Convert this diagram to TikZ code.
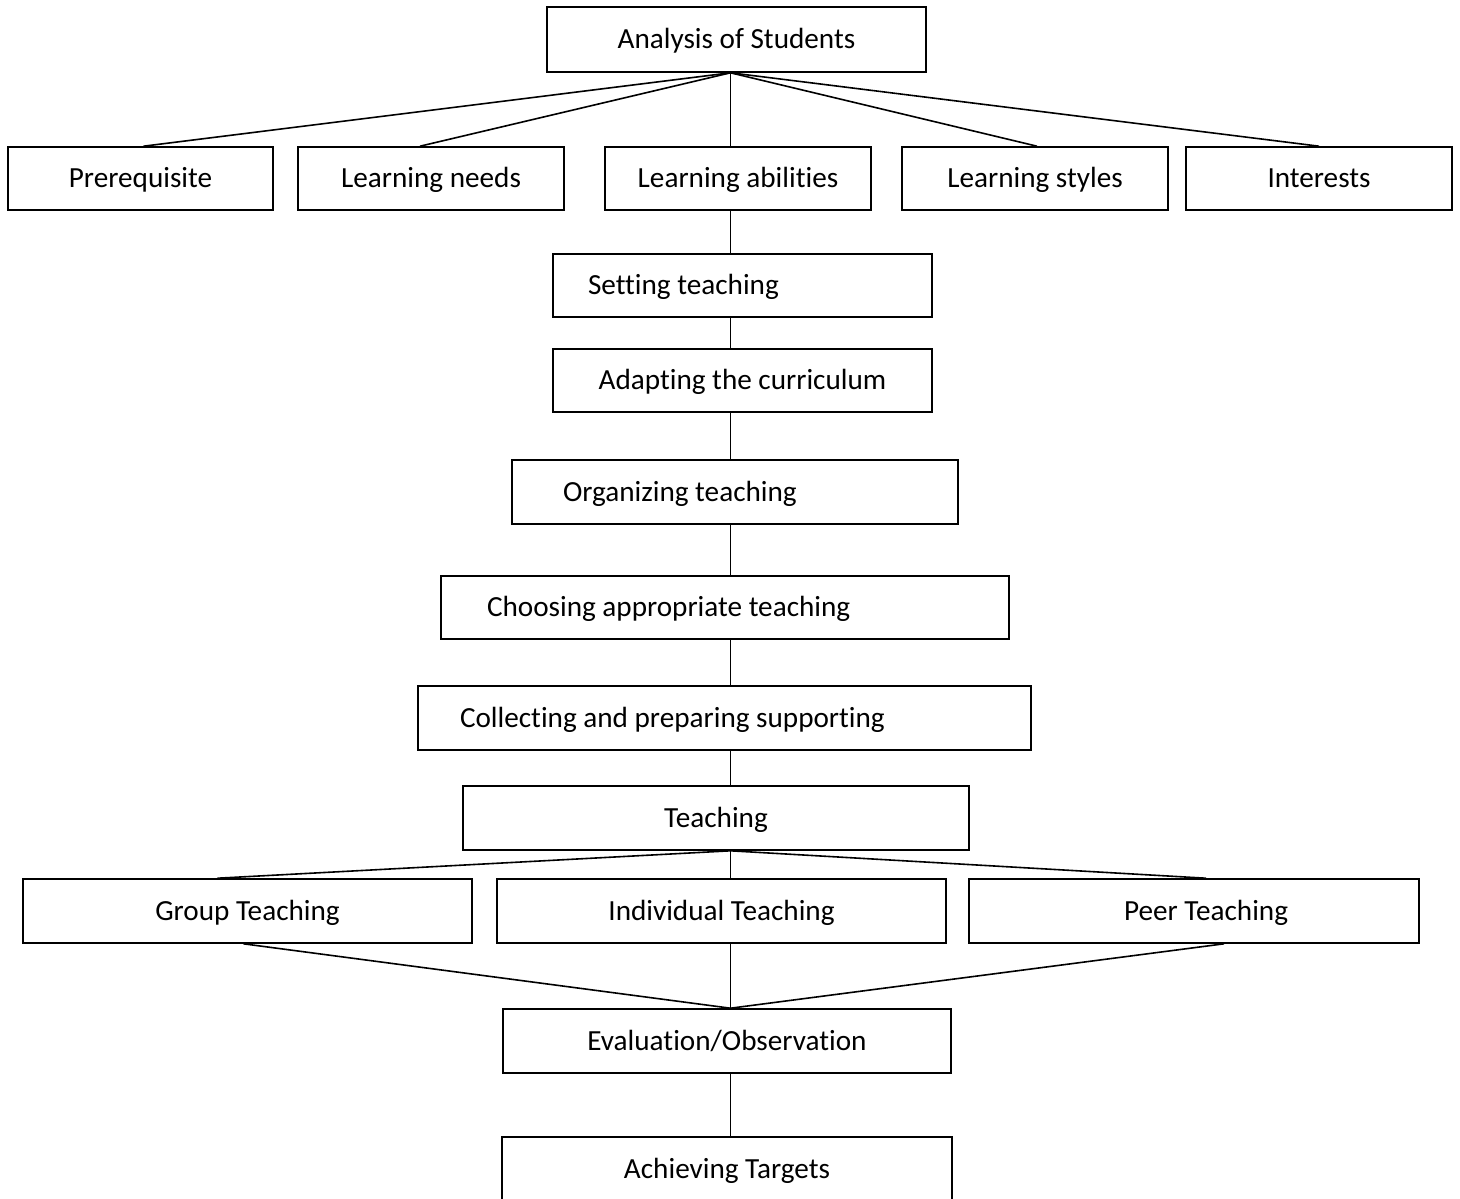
\documentclass[tikz,border=0pt]{standalone}
\usepackage{fontspec}
\setmainfont{Carlito}[Ligatures=NoCommon]
\begin{document}
\begin{tikzpicture}[
      x=0.5pt, y=-0.5pt,
      box/.style={draw, rectangle, inner sep=0pt, minimum height=31.5pt, line width=0.8pt},
      txt/.style={anchor=west, inner sep=0pt},
      every node/.style={font=\fontsize{14.6}{17}\selectfont, text height=11pt, text depth=2pt},
      line width=0.8pt
  ]
  \useasboundingbox (0,0) rectangle (1460,1198);

  % Top row
  \node[box, minimum width=189.5pt, minimum height=32.5pt] (analysis) at (736.5,39.5) {Analysis of Students};
  \node[box, minimum width=132.5pt] (prereq) at (140.5,178.5) {Prerequisite};
  \node[box, minimum width=133pt] (needs) at (431,178.5) {Learning needs};
  \node[box, minimum width=133pt] (abilities) at (738,178.5) {Learning abilities};
  \node[box, minimum width=133pt] (styles) at (1035,178.5) {Learning styles};
  \node[box, minimum width=133pt] (interests) at (1319,178.5) {Interests};

  % Main steps
  \node[box, minimum width=189.5pt] (setting) at (742.5,285.5) {};
  \node[txt] (setting-t) at ([xshift=17.5pt]setting.west) {Setting teaching};
  \node[box, minimum width=189.5pt] (adapting) at (742.5,380.5) {Adapting the curriculum};
  \node[box, minimum width=223pt, minimum height=32pt] (organizing) at (735,492) {};
  \node[txt] (organizing-t) at ([xshift=25.5pt]organizing.west) {Organizing teaching};
  \node[box, minimum width=284pt] (choosing) at (725,607.5) {};
  \node[txt] (choosing-t) at ([xshift=23pt]choosing.west) {Choosing appropriate teaching};
  \node[box, minimum width=306.5pt, minimum height=32pt] (collecting) at (724.5,718) {};
  \node[txt] (collecting-t) at ([xshift=21pt]collecting.west) {Collecting and preparing supporting};
  \node[box, minimum width=253pt, minimum height=32pt] (teaching) at (716,818) {Teaching};

  % Kinds of teaching
  \node[box, minimum width=224.5pt, minimum height=32pt] (group) at (247.5,911) {Group Teaching};
  \node[box, minimum width=224.5pt, minimum height=32pt] (individual) at (721.5,911) {Individual Teaching};
  \node[box, minimum width=225pt, minimum height=32pt] (peer) at (1194,911) {};
  \node (peer-t) at ([xshift=6pt]peer.center) {Peer Teaching};

  % Bottom
  \node[box, minimum width=224pt, minimum height=32pt] (evaluation) at (727,1041) {Evaluation/Observation};
  \node[box, minimum width=225pt, minimum height=32.5pt] (achieving) at (727,1169.5) {Achieving Targets};

  % Spine and meeting points
  \coordinate (spine) at (730.5,0);
  \coordinate (top) at (spine |- analysis.south);
  \coordinate (mid) at (spine |- teaching.south);
  \coordinate (low) at (spine |- evaluation.north);

  % Lines from the analysis box
  \draw (top) -- ([xshift=1.5pt]prereq.north);
  \draw (top) -- ([xshift=-5.5pt]needs.north);
  \draw (top) -- (spine |- abilities.north);
  \draw (top) -- ([xshift=1pt]styles.north);
  \draw (top) -- (interests.north);

  % Lines down the spine
  \draw (spine |- abilities.south) -- (spine |- setting.north);
  \draw (spine |- setting.south) -- (spine |- adapting.north);
  \draw (spine |- adapting.south) -- (spine |- organizing.north);
  \draw (spine |- organizing.south) -- (spine |- choosing.north);
  \draw (spine |- choosing.south) -- (spine |- collecting.north);
  \draw (spine |- collecting.south) -- (spine |- teaching.north);

  % Teaching splits and joins again
  \draw (mid) -- ([xshift=-15pt]group.north);
  \draw (mid) -- (spine |- individual.north);
  \draw (mid) -- ([xshift=6pt]peer.north);
  \draw ([xshift=-2pt]group.south) -- (low);
  \draw (spine |- individual.south) -- (low);
  \draw ([xshift=15pt]peer.south) -- (low);
  \draw (spine |- evaluation.south) -- (spine |- achieving.north);

  \end{tikzpicture}
\end{document}
